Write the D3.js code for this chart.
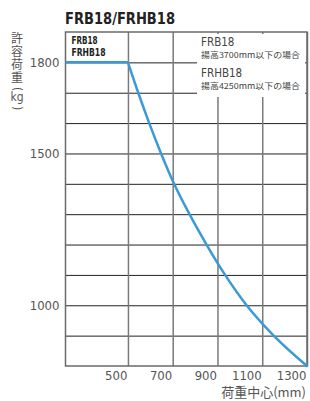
<!DOCTYPE html>
<html>
<head>
<meta charset="utf-8">
<script src="https://cdn.jsdelivr.net/npm/d3@7"></script>
<style>
  body { margin: 0; background: #fff; }
  svg { display: block; }
  .narrow { font-family: "Liberation Sans Narrow", "DejaVu Sans Condensed", "Roboto Condensed", "Liberation Sans", sans-serif; }
  .cjk { font-family: "Noto Sans CJK JP", sans-serif; }
</style>
</head>
<body>
<svg width="310" height="401"></svg>
<script>
// chart data
var loadCenters = [221, 500, 546, 595, 648, 706, 775, 851, 934, 1030, 1151, 1300];   // mm
var loads       = [1800, 1800, 1700, 1600, 1500, 1400, 1300, 1200, 1100, 1000, 900, 800]; // kg
var xTicks = [500, 700, 900, 1100, 1300];
var yGrid = [900, 1000, 1100, 1200, 1300, 1400, 1500, 1600, 1700, 1800];
var yLabels = [1000, 1500, 1800];
var title = "FRB18/FRHB18";
var models = ["FRB18", "FRHB18"];
var notes = ["揚高3700mm以下の場合", "揚高4250mm以下の場合"];
var yTitle = "許容荷重";
var xTitle = "荷重中心(mm)";

var svg = d3.select("svg"),
    margin = {top: 32, right: 3, bottom: 35, left: 65.5},
    width = 310 - margin.left - margin.right,
    height = 401 - margin.top - margin.bottom,
    g = svg.append("g").attr("transform", "translate(" + margin.left + "," + margin.top + ")");

var x = d3.scaleLinear().domain([221, 1300]).range([0, width]),
    y = d3.scaleLinear().domain([800, 1900]).range([height, 0]);

var data = loadCenters.map(function (c, i) { return {c: c, w: loads[i]}; });

/* horizontal grid + y labels */
var yAxis = g.append("g")
    .call(d3.axisLeft(y).tickValues(yGrid).tickSize(-width)
        .tickFormat(function (d) { return yLabels.indexOf(d) >= 0 ? d : ""; }));
yAxis.select(".domain").remove();
yAxis.selectAll("line").attr("stroke", "#222").attr("stroke-width", 1);
yAxis.selectAll("text")
    .attr("class", "narrow")
    .attr("x", -6)
    .attr("fill", "#555")
    .style("font-size", "13px");

/* vertical grid + x labels */
var xAxis = g.append("g")
    .attr("transform", "translate(0," + height + ")")
    .call(d3.axisBottom(x).tickValues(xTicks).tickSize(-height).tickFormat(d3.format("d")));
xAxis.select(".domain").remove();
xAxis.selectAll("line").attr("stroke", "#7a7a7a").attr("stroke-width", 1.5);
xAxis.selectAll("text")
    .attr("class", "narrow")
    .attr("text-anchor", "end")
    .attr("x", -1)
    .attr("y", 5)
    .attr("dy", "0.71em")
    .attr("fill", "#555")
    .style("font-size", "13px");

// frame
g.append("rect")
    .attr("width", width).attr("height", height)
    .attr("fill", "none").attr("stroke", "#6a6a6a").attr("stroke-width", 1.5);

// white note box over the grid
var bx = 131.5;
g.append("rect")
    .attr("x", bx).attr("y", 2)
    .attr("width", width - bx - 2).attr("height", 63)
    .attr("fill", "#fff");

// notes
models.forEach(function (m, i) {
    g.append("text").attr("class", "narrow")
        .attr("x", bx + 4).attr("y", 13.5 + i * 31)
        .attr("fill", "#444").style("font-size", "11.5px")
        .text(m);
    g.append("text").attr("class", "cjk")
        .attr("x", bx + 4).attr("y", 26 + i * 31)
        .attr("fill", "#444").style("font-size", "8.2px")
        .attr("textLength", 99).attr("lengthAdjust", "spacingAndGlyphs")
        .text(notes[i]);
});

// model label top-left
models.forEach(function (m, i) {
    g.append("text").attr("class", "narrow")
        .attr("x", 6).attr("y", 12 + i * 11.5)
        .attr("fill", "#222").style("font-size", "11px").style("font-weight", "bold")
        .attr("textLength", i ? 34 : 26).attr("lengthAdjust", "spacingAndGlyphs")
        .text(m);
});

// the curve: flat part then smooth drop
var line = d3.line()
    .x(function (d) { return x(d.c); })
    .y(function (d) { return y(d.w); });

g.append("path")
    .datum(data.slice(0, 2))
    .attr("d", line)
    .attr("fill", "none").attr("stroke", "#3a9ad8").attr("stroke-width", 2.5);

g.append("path")
    .datum(data.slice(1))
    .attr("d", line.curve(d3.curveMonotoneX))
    .attr("fill", "none").attr("stroke", "#3a9ad8").attr("stroke-width", 2.5)
    .attr("stroke-linecap", "round");

// title
svg.append("text").attr("class", "narrow")
    .attr("x", 65).attr("y", 24)
    .attr("fill", "#222").style("font-size", "15px").style("font-weight", "bold")
    .attr("textLength", 110).attr("lengthAdjust", "spacingAndGlyphs")
    .text(title);

// y axis title, written vertically
svg.append("text").attr("class", "cjk")
    .attr("x", 17).attr("y", 32)
    .style("writing-mode", "vertical-rl")
    .style("letter-spacing", "1.3px")
    .attr("fill", "#555").style("font-size", "12px")
    .text(yTitle);
svg.append("text").attr("class", "narrow")
    .attr("transform", "translate(17,89) rotate(90)")
    .attr("dy", "0.35em").attr("text-anchor", "middle")
    .attr("fill", "#555").style("font-size", "12px")
    .text("(");
svg.append("text").attr("class", "narrow")
    .attr("x", 17).attr("y", 101).attr("text-anchor", "middle")
    .attr("fill", "#555").style("font-size", "12px")
    .text("kg");
svg.append("text").attr("class", "narrow")
    .attr("transform", "translate(17,108) rotate(90)")
    .attr("dy", "0.35em").attr("text-anchor", "middle")
    .attr("fill", "#555").style("font-size", "12px")
    .text(")");

// x axis title
svg.append("text").attr("class", "cjk")
    .attr("x", 306).attr("y", 397).attr("text-anchor", "end")
    .attr("fill", "#555").style("font-size", "13px")
    .text(xTitle);
</script>
</body>
</html>
